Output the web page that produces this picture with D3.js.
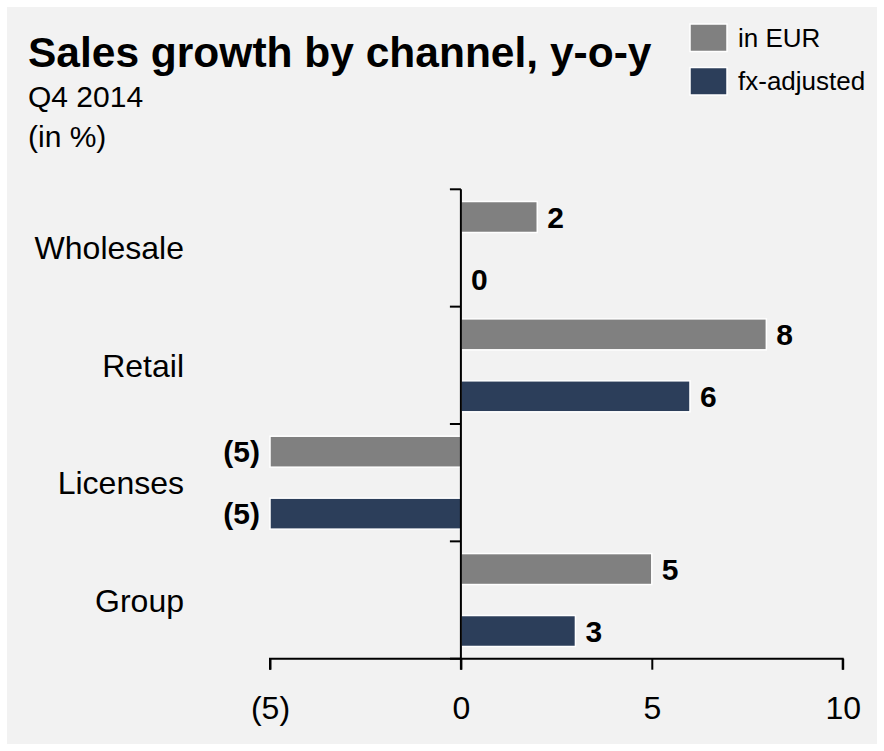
<!DOCTYPE html>
<html>
<head>
<meta charset="utf-8">
<script src="https://cdn.jsdelivr.net/npm/d3@7"></script>
<style>
  html, body { margin: 0; padding: 0; background: #ffffff; }
  svg { display: block; font-family: "Liberation Sans", Arial, sans-serif; }
</style>
</head>
<body>
<svg id="chart" width="884" height="751"></svg>
<script>
// ---- data ----
const categories = ["Wholesale", "Retail", "Licenses", "Group"];
const seriesNames = ["in EUR", "fx-adjusted"];
const inEUR = [2, 8, -5, 5];
const fxAdjusted = [0, 6, -5, 3];
const xTicks = [-5, 0, 5, 10];
const seriesColors = ["#808080", "#2c3e5a"];

const svg = d3.select("#chart");
const W = 884, H = 751;

// panel background
svg.append("rect").attr("x", 0).attr("y", 0).attr("width", W).attr("height", H).attr("fill", "#ffffff");
svg.append("rect").attr("x", 7).attr("y", 7).attr("width", W - 14).attr("height", H - 14).attr("fill", "#f2f2f2");

// titles
svg.append("text").attr("x", 28).attr("y", 67)
  .attr("font-size", 42.5).attr("font-weight", "bold").attr("fill", "#000")
  .text("Sales growth by channel, y-o-y");
svg.append("text").attr("x", 28).attr("y", 107)
  .attr("font-size", 30).attr("fill", "#000").text("Q4 2014");
svg.append("text").attr("x", 28).attr("y", 147)
  .attr("font-size", 30).attr("fill", "#000").text("(in %)");

// legend
const legend = svg.append("g");
seriesNames.forEach((name, i) => {
  const g = legend.append("g").attr("transform", `translate(690, ${24 + i * 43.5})`);
  g.append("rect").attr("x", 0).attr("y", 0).attr("width", 37).attr("height", 27.5)
    .attr("fill", seriesColors[i]).attr("stroke", "#ffffff").attr("stroke-width", 1.5);
  g.append("text").attr("x", 48).attr("y", 13.75).attr("dy", "0.35em")
    .attr("font-size", 26).attr("fill", "#000").text(name);
});

// scales
const x = d3.scaleLinear().domain([-5, 10]).range([270, 842.7]);
const y = d3.scaleBand().domain(categories).range([189.3, 658.7]).padding(0);
const y1 = d3.scaleBand().domain(seriesNames).range([0, y.bandwidth()])
  .paddingInner(0.5).paddingOuter(0.197);

const rows = categories.map((c, i) => ({ cat: c, values: [inEUR[i], fxAdjusted[i]] }));

const fmt = v => v < 0 ? `(${Math.abs(v)})` : `${v}`;

// bars
const groups = svg.append("g").selectAll("g").data(rows).join("g")
  .attr("transform", d => `translate(0, ${y(d.cat)})`);

groups.selectAll("rect").data(d => d.values.map((v, i) => ({ v, s: seriesNames[i], i })))
  .join("rect")
  .filter(d => d.v !== 0)
  .attr("x", d => x(Math.min(0, d.v)))
  .attr("y", d => y1(d.s))
  .attr("width", d => Math.abs(x(d.v) - x(0)))
  .attr("height", y1.bandwidth())
  .attr("fill", d => seriesColors[d.i])
  .attr("stroke", "#ffffff").attr("stroke-width", 1.5);

groups.selectAll("text.val").data(d => d.values.map((v, i) => ({ v, s: seriesNames[i], i })))
  .join("text").attr("class", "val")
  .attr("x", d => d.v < 0 ? x(d.v) - 10 : x(d.v) + 10)
  .attr("y", d => y1(d.s) + y1.bandwidth() / 2)
  .attr("dy", "0.36em")
  .attr("text-anchor", d => d.v < 0 ? "end" : "start")
  .attr("font-size", 30).attr("font-weight", "bold").attr("fill", "#000")
  .text(d => fmt(d.v));

// x axis
const xAxis = d3.axisBottom(x).tickValues(xTicks).tickSize(11).tickPadding(27)
  .tickFormat(fmt);
const gx = svg.append("g").attr("transform", `translate(0, 658.7)`).call(xAxis);
gx.select(".domain").attr("stroke", "#000").attr("stroke-width", 2)
  .attr("d", `M${x(-5)},11V0H${x(10)}V11`);
gx.selectAll(".tick line").attr("stroke", "#000").attr("stroke-width", 2);
gx.selectAll(".tick text").attr("font-size", 32).attr("fill", "#000")
  .attr("font-family", "Liberation Sans, Arial, sans-serif");

// y axis at zero with boundary ticks
const boundaries = categories.map(c => y(c)).concat([y.range()[1]]);
const gy = svg.append("g");
gy.append("line").attr("x1", x(0)).attr("x2", x(0))
  .attr("y1", y.range()[0]).attr("y2", y.range()[1] + 11)
  .attr("stroke", "#000").attr("stroke-width", 2);
gy.selectAll("line.bt").data(boundaries).join("line").attr("class", "bt")
  .attr("x1", x(0) - 11).attr("x2", x(0))
  .attr("y1", d => d).attr("y2", d => d)
  .attr("stroke", "#000").attr("stroke-width", 2);

// category labels
svg.append("g").selectAll("text").data(categories).join("text")
  .attr("x", 184)
  .attr("y", d => y(d) + y.bandwidth() / 2)
  .attr("dy", "0.36em")
  .attr("text-anchor", "end")
  .attr("font-size", 32).attr("fill", "#000")
  .text(d => d);
</script>
</body>
</html>
